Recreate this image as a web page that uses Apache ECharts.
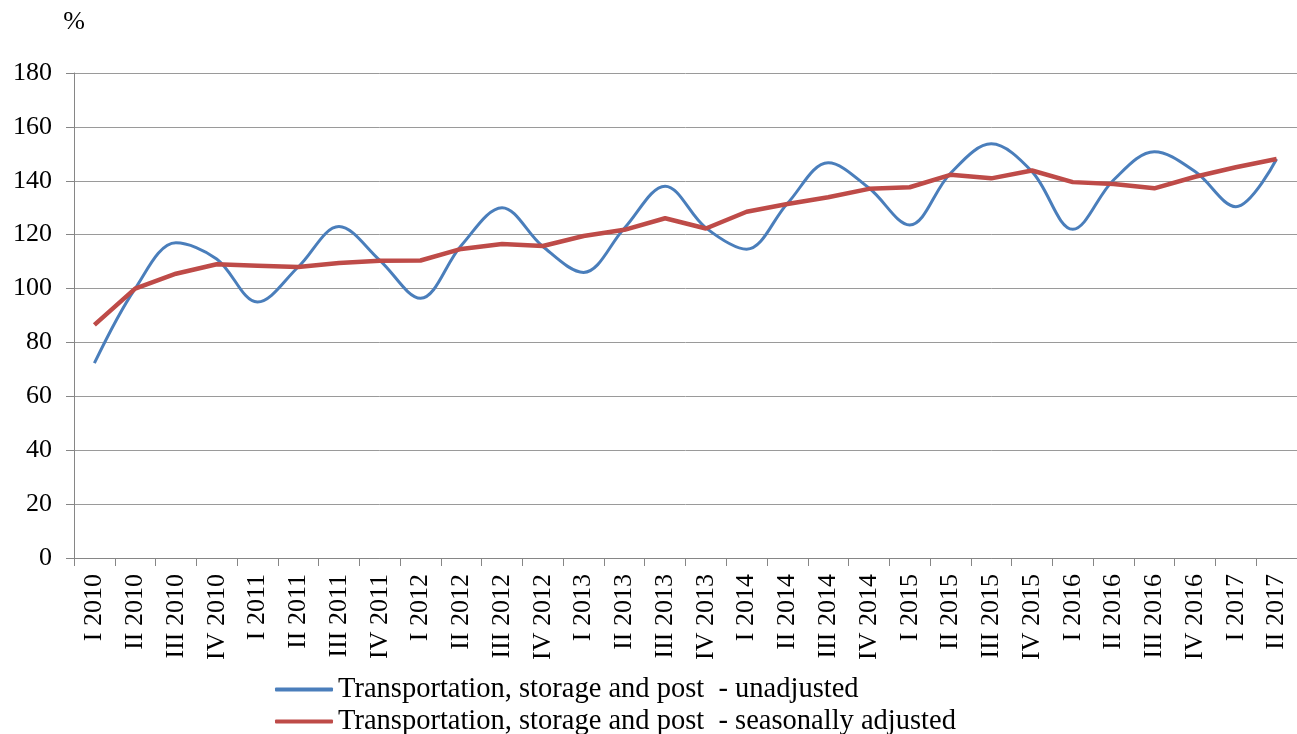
<!DOCTYPE html>
<html>
<head>
<meta charset="utf-8">
<script src="https://cdn.jsdelivr.net/npm/echarts@6/dist/echarts.min.js"></script>
<style>
  html, body { margin: 0; padding: 0; background: #fff; }
  #chart { width: 1297px; height: 734px; }
</style>
</head>
<body>
<div id="chart"></div>
<script>
var quarters = [
  "I 2010", "II 2010", "III 2010", "IV 2010",
  "I 2011", "II 2011", "III 2011", "IV 2011",
  "I 2012", "II 2012", "III 2012", "IV 2012",
  "I 2013", "II 2013", "III 2013", "IV 2013",
  "I 2014", "II 2014", "III 2014", "IV 2014",
  "I 2015", "II 2015", "III 2015", "IV 2015",
  "I 2016", "II 2016", "III 2016", "IV 2016",
  "I 2017", "II 2017"
];

var unadjusted = [
  72.3, 100, 117, 111, 95, 108, 123, 110.5, 96.4, 116,
  130, 115.6, 106, 122.4, 138, 122.5, 114.6, 131.6, 146.7, 137.3,
  123.6, 142.8, 153.7, 143.4, 122, 140.3, 150.8, 143.4, 130.4, 148.1
];

var adjusted = [
  86.5, 100, 105.5, 109, 108.5, 108, 109.5, 110.3, 110.4, 114.7,
  116.5, 115.8, 119.5, 121.8, 126.1, 122.3, 128.5, 131.4, 133.9, 137,
  137.6, 142.2, 140.9, 143.8, 139.5, 138.8, 137.2, 141.5, 145, 148.1
];

var seriesNames = [
  "Transportation, storage and post  - unadjusted",
  "Transportation, storage and post  - seasonally adjusted"
];

var font = "'Liberation Serif', 'DejaVu Serif', serif";
var myChart = echarts.init(document.getElementById("chart"));

function legendAt(top, name) {
  return {
    orient: "horizontal",
    left: 275,
    top: top,
    padding: 0,
    itemWidth: 58,
    itemHeight: 4,
    icon: "roundRect",
    textStyle: { fontFamily: font, fontSize: 28.5, color: "#000", lineHeight: 28 },
    data: [name]
  };
}

var option = {
  animation: false,
  grid: {
    left: 74,
    right: 0,
    top: 73,
    bottom: 176,
    containLabel: false
  },
  legend: [legendAt(675, seriesNames[0]), legendAt(707, seriesNames[1])],
  xAxis: {
    type: "category",
    data: quarters,
    boundaryGap: true,
    axisLine: { lineStyle: { color: "#868686", width: 1 } },
    axisTick: { show: true, length: 8, interval: 0, lineStyle: { color: "#868686" } },
    axisLabel: {
      rotate: 90,
      interval: 0,
      margin: 16,
      color: "#000",
      fontFamily: font,
      fontSize: 26
    },
    splitLine: { show: false }
  },
  yAxis: {
    type: "value",
    min: 0,
    max: 180,
    interval: 20,
    name: "%",
    nameLocation: "end",
    nameGap: 38,
    nameTextStyle: { fontFamily: font, fontSize: 26, color: "#000" },
    axisLine: { show: true, lineStyle: { color: "#868686", width: 1 } },
    axisTick: { show: true, length: 8, lineStyle: { color: "#868686" } },
    axisLabel: {
      margin: 22,
      color: "#000",
      fontFamily: font,
      fontSize: 26
    },
    splitLine: { show: true, lineStyle: { color: "#9a9a9a", width: 1 } }
  },
  series: [
    {
      name: seriesNames[0],
      type: "line",
      data: unadjusted,
      smooth: 0.35,
      showSymbol: false,
      color: "#4A7EBB",
      lineStyle: { width: 3 }
    },
    {
      name: seriesNames[1],
      type: "line",
      data: adjusted,
      smooth: false,
      showSymbol: false,
      color: "#BE4B48",
      lineStyle: { width: 4.5 }
    }
  ]
};

myChart.setOption(option);
window.addEventListener("resize", function () {
  myChart.resize();
});
</script>
</body>
</html>
